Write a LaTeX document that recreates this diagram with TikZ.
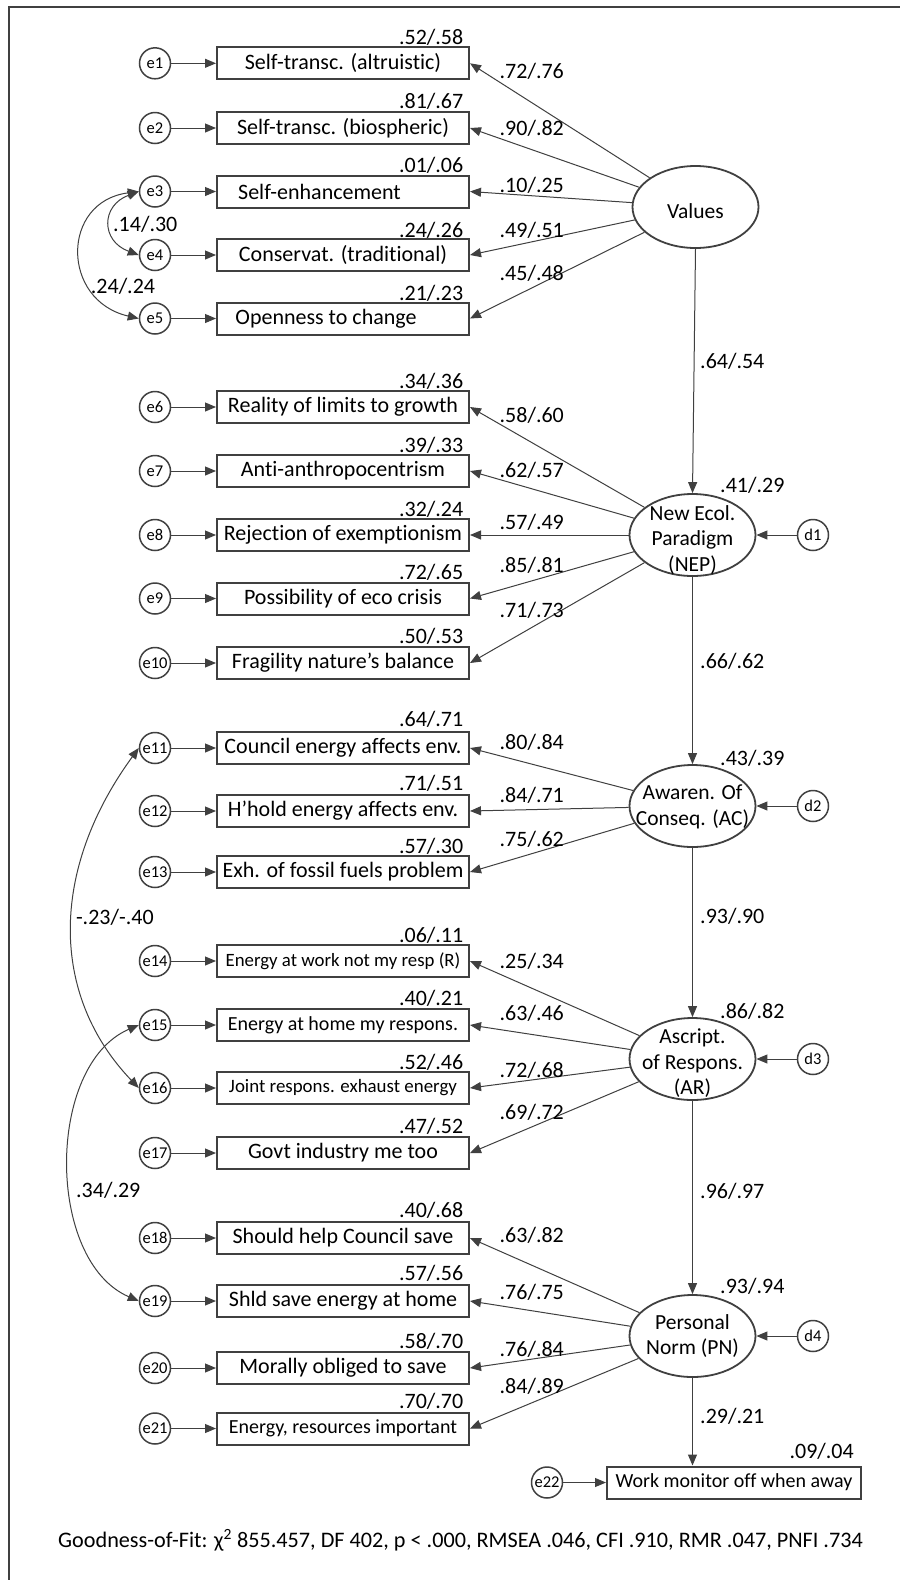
\documentclass[tikz,border=0pt]{standalone}
\usepackage{fontspec}
\setmainfont{Carlito}[Ligatures=NoCommon]
\usetikzlibrary{shapes.geometric,arrows.meta}
\definecolor{dk}{HTML}{404040}
\newcommand{\fs}[1]{\fontsize{#1}{#1}\selectfont}
\begin{document}
\begin{tikzpicture}[x=1pt,y=-1pt,
  obs/.style={draw=dk,line width=2pt,minimum width=252pt,minimum height=32pt,inner sep=0pt,font=\fs{22}},
  lat/.style={ellipse,draw=dk,line width=1.8pt,minimum width=126pt,minimum height=82pt,inner sep=0pt},
  lattext/.style={align=center,font=\fontsize{21.5}{25.5}\selectfont,inner sep=0pt},
  err/.style={circle,draw=dk,line width=1.5pt,minimum size=31pt,inner sep=0pt,font=\fs{16.5}},
  arr/.style={draw=dk,line width=1pt,-{Triangle[length=11pt,width=9pt]}},
  cov/.style={draw=dk,line width=1pt,{Triangle[length=11pt,width=9pt]}-{Triangle[length=11pt,width=9pt]}},
  num/.style={font=\fs{22},inner sep=0pt,anchor=base west},
  rsq/.style={font=\fs{22},inner sep=0pt,anchor=base east},
]
\useasboundingbox (0,0) rectangle (900,1580);
\fill[white] (0,0) rectangle (900,1580);
% frame (only top and left edges visible)
\draw[dk,line width=2.5pt] (9,1580) -- (9,7) -- (900,7);

% observed boxes
\node[obs] (o1) at (343,63.3) {Self-transc. (altruistic)};
\node[obs] (o2) at (343,128) {Self-transc. (biospheric)};
\node[obs] (o3) at (343,191.5) {Self-enhancement\hspace*{47pt}};
\node[obs] (o4) at (343,255) {Conservat. (traditional)};
\node[obs] (o5) at (343,318.5) {Openness to change\hspace*{34pt}};
\node[obs] (o6) at (343,407) {Reality of limits to growth};
\node[obs] (o7) at (343,471) {Anti-anthropocentrism};
\node[obs] (o8) at (343,535) {Rejection of exemptionism};
\node[obs] (o9) at (343,598.5) {Possibility of eco crisis};
\node[obs] (o10) at (343,663) {Fragility nature’s balance};
\node[obs] (o11) at (343,748) {Council energy affects env.};
\node[obs] (o12) at (343,811) {H’hold energy affects env.};
\node[obs] (o13) at (343,872) {Exh. of fossil fuels problem};
\node[obs,font=\fs{18.8}] (o14) at (343,961) {Energy at work not my resp (R)};
\node[obs,font=\fs{20}] (o15) at (343,1025) {Energy at home my respons.};
\node[obs,font=\fs{18.9}] (o16) at (343,1088) {Joint respons. exhaust energy};
\node[obs] (o17) at (343,1153) {Govt industry me too};
\node[obs] (o18) at (343,1238) {Should help Council save};
\node[obs] (o19) at (343,1301) {Shld save energy at home};
\node[obs] (o20) at (343,1368) {Morally obliged to save};
\node[obs,font=\fs{20}] (o21) at (343,1428.5) {Energy, resources important};
\node[obs,font=\fs{20},minimum width=254pt] (o22) at (734,1482.5) {Work monitor off when away};

% error circles
\foreach \i/\y in {1/63.3,2/128,3/191.5,4/255,5/318.5,6/407,7/471,8/535,9/598.5,10/663,11/748,12/811,13/872,14/961,15/1025,16/1088,17/1153,18/1238,19/1301,20/1368,21/1428.5}{
  \node[err] (e\i) at (155,\y) {e\i};
  \draw[arr] (e\i) -- (o\i);
}
\node[err] (e22) at (547,1482.5) {e22};
\draw[arr] (e22) -- (o22);

% latent variables
\node[lat] (val) at (695.5,207) {};
\node[lattext] (valt) at (695.5,211) {Values};
\node[lat] (nep) at (692.5,535) {};
\node[lattext] (nept) at (692.5,540) {New Ecol.\\Paradigm\\(NEP)};
\node[lat] (ac) at (692.5,806) {};
\node[lattext] (act) at (692.5,807) {Awaren. Of\\Conseq. (AC)};
\node[lat] (ar) at (692.5,1059) {};
\node[lattext] (art) at (692.5,1063.3) {Ascript.\\of Respons.\\(AR)};
\node[lat] (pn) at (692.5,1336) {};
\node[lattext] (pnt) at (692.5,1336) {Personal\\Norm (PN)};

% disturbances
\foreach \i/\n/\y in {1/nep/535,2/ac/806,3/ar/1059,4/pn/1336}{
  \node[err] (d\i) at (813,\y) {d\i};
  \draw[arr] (d\i) -- (\n);
}

% loadings
\foreach \i in {1,...,5}{\draw[arr] (val) -- (o\i.east);}
\foreach \i in {6,...,10}{\draw[arr] (nep) -- (o\i.east);}
\foreach \i in {11,12,13}{\draw[arr] (ac) -- (o\i.east);}
\foreach \i in {14,...,17}{\draw[arr] (ar) -- (o\i.east);}
\foreach \i in {18,...,21}{\draw[arr] (pn) -- (o\i.east);}

% structural paths
\draw[arr] (val.south) -- (nep.north);
\draw[arr] (nep) -- (ac);
\draw[arr] (ac) -- (ar);
\draw[arr] (ar) -- (pn);
\draw[arr] (pn) -- (pn |- o22.north);

% covariances
\draw[cov] (e3.west) .. controls +(-38,14) and +(-38,-14) .. (e4.west);
\draw[cov] (e3.west) .. controls +(-78,10) and +(-78,-18) .. (e5.west);
\draw[cov] (e11.west) .. controls +(-89,122) and +(-89,-93) .. (e16.west);
\draw[cov] (e15.west) .. controls +(-93,40) and +(-93,-40) .. (e19.west);

% R-squared labels above boxes
\foreach \y/\a/\b in {44.7/.52/.58,108.7/.81/.67,172.7/.01/.06,237/.24/.26,300.3/.21/.23,388.7/.34/.36,452/.39/.33,516.3/.32/.24,579.3/.72/.65,643/.50/.53,726.3/.64/.71,790.3/.71/.51,853.7/.57/.30,942/.06/.11,1005.3/.40/.21,1069.3/.52/.46,1133/.47/.52,1217/.40/.68,1280.3/.57/.56,1348.7/.58/.70,1408.7/.70/.70}{
  \node[rsq] at (463.5,\y) {\a/\b};
}
\node[rsq] (r22) at (854,1458.7) {.09/.04};

% loading labels
\foreach \y/\a/\b in {78.7/.72/.76,135.3/.90/.82,192/.10/.25,237/.49/.51,280.3/.45/.48,422/.58/.60,477/.62/.57,529.7/.57/.49,572.7/.85/.81,617/.71/.73,749.7/.80/.84,802/.84/.71,846.3/.75/.62,968.7/.25/.34,1020.3/.63/.46,1077/.72/.68,1119.7/.69/.72,1242/.63/.82,1299.7/.76/.75,1356.3/.76/.84,1393/.84/.89}{
  \node[num] at (499.5,\y) {\a/\b};
}

% structural path labels
\foreach \y/\a/\b in {368.7/.64/.54,668.7/.66/.62,923.7/.93/.90,1198.7/.96/.97,1423.7/.29/.21}{
  \node[num] at (700,\y) {\a/\b};
}
% latent R-squared
\foreach \y/\a/\b in {492/.41/.29,765.3/.43/.39,1018/.86/.82,1293/.93/.94}{
  \node[num] at (720,\y) {\a/\b};
}

% covariance labels
\node[num] at (113,231) {.14/.30};
\node[num] at (90.7,293) {.24/.24};
\node[num] at (75.8,924.7) {-.23/-.40};
\node[num] at (76,1197) {.34/.29};

% fit
\node[num,font=\fs{22.2}] (fit) at (58,1547) {Goodness-of-Fit: χ\textsuperscript{2} 855.457, DF 402, p < .000, RMSEA .046, CFI .910, RMR .047, PNFI .734};
\end{tikzpicture}
\end{document}
